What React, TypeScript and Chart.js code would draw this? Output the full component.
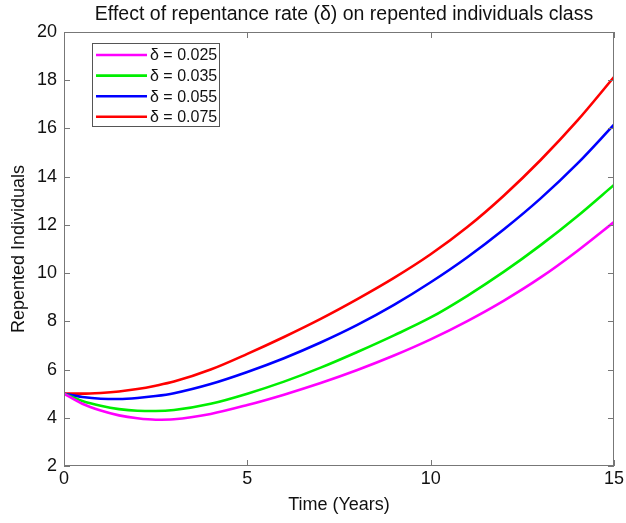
import React, { useEffect, useRef } from "react";
import { Chart, registerables } from "chart.js";

Chart.register(...registerables);

const times = [0, 0.5, 1, 1.5, 2, 2.5, 3, 4, 5, 6, 7, 8, 9, 10, 11, 12, 13, 14, 15];
const delta025 = [5.0, 4.58, 4.3, 4.1, 3.98, 3.92, 3.94, 4.16, 4.53, 4.96, 5.44, 5.98, 6.58, 7.25, 8.01, 8.86, 9.82, 10.92, 12.12];
const delta035 = [5.0, 4.7, 4.5, 4.36, 4.29, 4.28, 4.32, 4.58, 5.0, 5.5, 6.08, 6.73, 7.42, 8.16, 9.06, 10.06, 11.16, 12.36, 13.66];
const delta055 = [5.0, 4.86, 4.79, 4.78, 4.82, 4.9, 5.02, 5.4, 5.9, 6.47, 7.12, 7.85, 8.68, 9.62, 10.66, 11.82, 13.1, 14.54, 16.16];
const delta075 = [5.0, 5.0, 5.03, 5.09, 5.19, 5.33, 5.5, 6.0, 6.65, 7.35, 8.1, 8.92, 9.8, 10.78, 11.91, 13.22, 14.69, 16.32, 18.13];

const seriesLabels = ["δ = 0.025", "δ = 0.035", "δ = 0.055", "δ = 0.075"];
const seriesColors = ["#ff00ff", "#00ee00", "#0000ff", "#ff0000"];
const xTicks = [0, 5, 10, 15];
const yTicks = [2, 4, 6, 8, 10, 12, 14, 16, 18, 20];

const FONT = "'Liberation Sans', Arial, Helvetica, sans-serif";

const boxPlugin = {
  id: "matlabBox",
  afterDatasetsDraw(chart: any) {
    const { ctx, chartArea, scales } = chart;
    const { left, right, top, bottom } = chartArea;
    const x = scales.x;
    const y = scales.y;
    ctx.save();
    ctx.strokeStyle = "#777777";
    ctx.lineWidth = 1;
    ctx.strokeRect(Math.round(left) + 0.5, Math.round(top) + 0.5, Math.round(right - left) - 1, Math.round(bottom - top) - 1);
    ctx.beginPath();
    const tl = 6;
    xTicks.forEach((v) => {
      const px = Math.round(x.getPixelForValue(v)) + 0.5;
      ctx.moveTo(px, bottom);
      ctx.lineTo(px, bottom - tl);
      ctx.moveTo(px, top);
      ctx.lineTo(px, top + tl);
    });
    yTicks.forEach((v) => {
      const py = Math.round(y.getPixelForValue(v)) + 0.5;
      ctx.moveTo(left, py);
      ctx.lineTo(left + tl, py);
      ctx.moveTo(right, py);
      ctx.lineTo(right - tl, py);
    });
    ctx.stroke();

    // legend
    const bx = left + 28;
    const by = top + 11;
    const bw = 127;
    const bh = 83;
    ctx.fillStyle = "#ffffff";
    ctx.fillRect(bx, by, bw, bh);
    ctx.strokeStyle = "#555555";
    ctx.lineWidth = 1;
    ctx.strokeRect(bx + 0.5, by + 0.5, bw, bh);
    ctx.font = `16px ${FONT}`;
    ctx.textBaseline = "middle";
    ctx.textAlign = "left";
    seriesLabels.forEach((lab, i) => {
      const ry = by + 12 + i * 20.6;
      ctx.strokeStyle = seriesColors[i];
      ctx.lineWidth = 2.6;
      ctx.beginPath();
      ctx.moveTo(bx + 4, ry);
      ctx.lineTo(bx + 55, ry);
      ctx.stroke();
      ctx.fillStyle = "#111111";
      ctx.fillText(lab, bx + 58, ry + 1);
    });
    ctx.restore();
  },
};

export default function App() {
  const ref = useRef<HTMLCanvasElement | null>(null);
  useEffect(() => {
    if (!ref.current) return;
    const data = [delta025, delta035, delta055, delta075];
    const chart = new Chart(ref.current, {
      type: "line",
      data: {
        datasets: data.map((arr, i) => ({
          label: seriesLabels[i],
          data: arr.map((v, j) => ({ x: times[j], y: v })),
          borderColor: seriesColors[i],
          borderWidth: 2.6,
          pointRadius: 0,
          fill: false,
          cubicInterpolationMode: "monotone" as const,
        })),
      },
      options: {
        animation: false,
        responsive: false,
        maintainAspectRatio: false,
        layout: { padding: { top: 32, right: 12, left: 8, bottom: 0 } },
        plugins: {
          legend: { display: false },
          tooltip: { enabled: false },
          title: { display: false },
        },
        scales: {
          x: {
            type: "linear",
            min: 0,
            max: 15,
            afterBuildTicks: (s: any) => {
              s.ticks = xTicks.map((v) => ({ value: v }));
            },
            afterFit: (s: any) => {
              s.height = 57;
            },
            grid: { display: false, drawTicks: false },
            border: { display: false },
            ticks: { color: "#111", font: { size: 18, family: FONT }, padding: 2, maxRotation: 0 },
            title: { display: true, text: "Time (Years)", color: "#111", font: { size: 18, family: FONT }, padding: { top: 4, bottom: 7 } },
          },
          y: {
            type: "linear",
            min: 2,
            max: 20,
            afterBuildTicks: (s: any) => {
              s.ticks = yTicks.map((v) => ({ value: v }));
            },
            afterFit: (s: any) => {
              s.width = 56;
            },
            grid: { display: false, drawTicks: false },
            border: { display: false },
            ticks: { color: "#111", font: { size: 18, family: FONT }, padding: 7 },
            title: { display: true, text: "Repented Individuals", color: "#111", font: { size: 18, family: FONT }, padding: { top: 0, bottom: 2 } },
          },
        },
      },
      plugins: [
        boxPlugin,
        {
          id: "titleText",
          afterDraw(c: any) {
            const { ctx } = c;
            ctx.save();
            ctx.font = `19.5px ${FONT}`;
            ctx.fillStyle = "#111";
            ctx.textAlign = "center";
            ctx.textBaseline = "middle";
            ctx.fillText("Effect of repentance rate (δ) on repented individuals class", 344, 15);
            ctx.restore();
          },
        },
      ],
    });
    return () => chart.destroy();
  }, []);
  return (
    <div style={{ position: "fixed", left: 0, top: 0, width: 626, height: 523, background: "#fff" }}>
      <canvas ref={ref} width={626} height={523} />
    </div>
  );
}
